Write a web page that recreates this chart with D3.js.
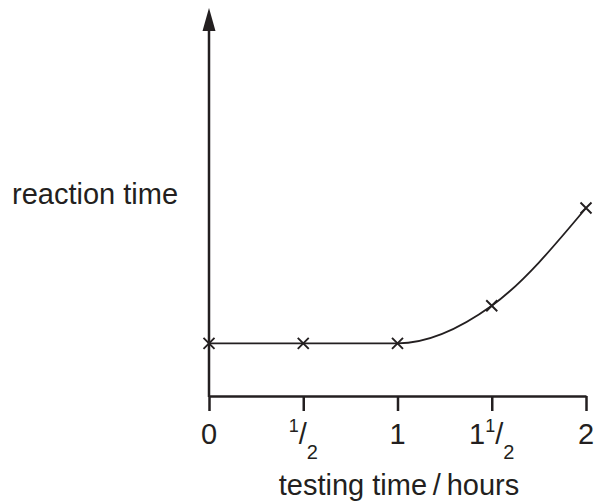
<!DOCTYPE html>
<html>
<head>
<meta charset="utf-8">
<script src="https://cdn.jsdelivr.net/npm/d3@7"></script>
<style>
  body { margin: 0; background: #fff; }
  text { font-family: "Liberation Sans", Arial, sans-serif; fill: #231f20; }
</style>
</head>
<body>
<div class="chart"></div>
<script>
var svgWidth = 594;
var svgHeight = 503;

// testing time (hours) and reaction time (arbitrary units)
var testingTime = [0, 0.5, 1, 1.5, 2];
var reactionTime = [1.4, 1.4, 1.4, 2.4, 5.0];
// tick labels: [whole part, fraction numerator, fraction denominator]
var tickLabels = [["0", "", ""], ["", "1", "2"], ["1", "", ""], ["1", "1", "2"], ["2", "", ""]];

var xLabel = "testing time\u2009/\u2009hours";
var yLabel = "reaction time";

var ink = "#231f20";

var svg = d3.select(".chart")
  .append("svg")
  .attr("width", svgWidth)
  .attr("height", svgHeight);

var xScale = d3.scaleLinear().domain([0, 2]).range([209, 586]);
var yScale = d3.scaleLinear().domain([0, 10]).range([396, 20]);

// x axis with ticks hanging down
var xAxis = svg.append("g")
  .attr("transform", `translate(0, ${yScale(0)})`)
  .call(d3.axisBottom(xScale).tickValues(testingTime).tickSize(15).tickSizeOuter(0).tickFormat(""));
xAxis.select(".domain").attr("stroke", ink).attr("stroke-width", 2.5);
xAxis.selectAll(".tick line").attr("stroke", ink).attr("stroke-width", 2.5);

// tick labels with little fractions
var labels = svg.append("g");
testingTime.forEach(function(t, i) {
  var parts = tickLabels[i];
  var txt = labels.append("text")
    .attr("x", xScale(t))
    .attr("y", 444)
    .attr("text-anchor", "middle")
    .style("font-size", "29px");
  if (parts[0]) txt.append("tspan").text(parts[0]);
  if (parts[1]) {
    txt.append("tspan").style("font-size", "18px").attr("dy", -12).text(parts[1]);
    txt.append("tspan").attr("dy", 12).text("/");
    txt.append("tspan").style("font-size", "20px").attr("dy", 15).text(parts[2]);
  }
});

// y axis with arrowhead
svg.append("line")
  .attr("x1", xScale(0)).attr("x2", xScale(0))
  .attr("y1", yScale(0) + 1).attr("y2", 28)
  .attr("stroke", ink).attr("stroke-width", 2.5);
svg.append("path")
  .attr("d", `M${xScale(0)},8 L${xScale(0) - 6.5},31 L${xScale(0) + 6.5},31 Z`)
  .attr("fill", ink);

// fitted curve
var line = d3.line()
  .x((d, i) => xScale(testingTime[i]))
  .y(d => yScale(d))
  .curve(d3.curveMonotoneX);

svg.append("path")
  .datum(reactionTime)
  .attr("d", line)
  .attr("fill", "none")
  .attr("stroke", ink)
  .attr("stroke-width", 1.8);

// crosses at data points
var s = 5.5;
svg.selectAll(".cross")
  .data(reactionTime)
  .enter()
  .append("path")
  .attr("class", "cross")
  .attr("d", function(d, i) {
    var cx = xScale(testingTime[i]), cy = yScale(d);
    return `M${cx - s},${cy - s}L${cx + s},${cy + s}M${cx - s},${cy + s}L${cx + s},${cy - s}`;
  })
  .attr("stroke", ink)
  .attr("stroke-width", 1.9);

// axis labels
svg.append("text")
  .attr("x", 12)
  .attr("y", 204)
  .style("font-size", "29px")
  .text(yLabel);

svg.append("text")
  .attr("x", 399)
  .attr("y", 495)
  .attr("text-anchor", "middle")
  .style("font-size", "29px")
  .text(xLabel);
</script>
</body>
</html>
